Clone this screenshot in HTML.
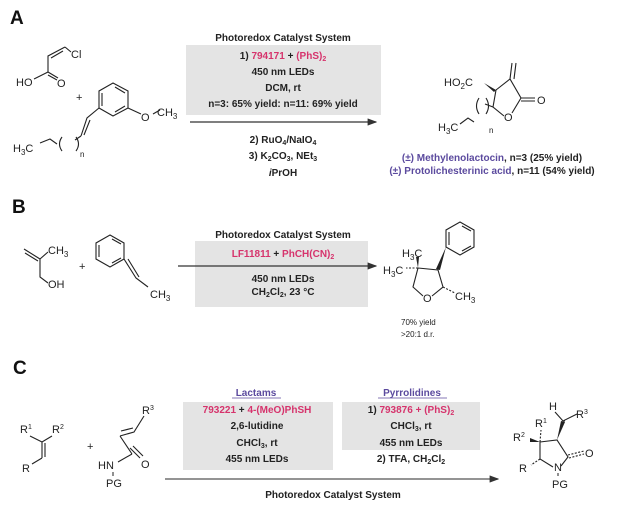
<!DOCTYPE html>
<html><head><meta charset="utf-8"><style>
html,body{margin:0;padding:0;background:#fff;}
svg{display:block;font-family:"Liberation Sans",sans-serif;}
.b{font-weight:bold}
.t{font-size:10px;fill:#222;text-anchor:middle}
.p{fill:#d6336c}
.u{fill:#5b4a9e}
.l{stroke:#222;stroke-width:1.1;fill:none}
.m{font-size:11px;fill:#222}
</style></head><body>
<svg width="620" height="505" viewBox="0 0 620 505" xmlns="http://www.w3.org/2000/svg">
<defs><marker id="ah" markerWidth="8" markerHeight="6" refX="7" refY="3" orient="auto"><path d="M0,0 L8,3 L0,6 z" fill="#333"/></marker></defs>

<!-- Panel A -->
<text x="10" y="24" font-size="19" class="b" fill="#111">A</text>
<text x="283" y="41" class="t b" font-size="10.5">Photoredox Catalyst System</text>
<rect x="186" y="45" width="195" height="70" fill="#e4e4e4"/>
<text x="283" y="59" class="t b">1) <tspan class="p">794171</tspan> + <tspan class="p">(PhS)<tspan font-size="7" dy="2">2</tspan></tspan></text>
<text x="283" y="75" class="t b">450 nm LEDs</text>
<text x="283" y="91" class="t b">DCM, rt</text>
<text x="283" y="107" class="t b" font-size="6.5">n=3: 65% yield: n=11: 69% yield</text>
<line x1="190" y1="122" x2="376" y2="122" stroke="#333" stroke-width="1.2" marker-end="url(#ah)"/>
<text x="283" y="143" class="t b">2) RuO<tspan font-size="7" dy="2">4</tspan><tspan dy="-2">/NaIO</tspan><tspan font-size="7" dy="2">4</tspan></text>
<text x="283" y="159" class="t b">3) K<tspan font-size="7" dy="2">2</tspan><tspan dy="-2">CO</tspan><tspan font-size="7" dy="2">3</tspan><tspan dy="-2">, NEt</tspan><tspan font-size="7" dy="2">3</tspan></text>
<text x="283" y="176" class="t b"><tspan font-style="italic">i</tspan>PrOH</text>

<!-- chloroacrylic acid -->
<path class="l" d="M48,72 L48,56 L65,47 M51,58 L63,51 M65,47 L71,52"/>
<text x="71" y="58" class="m">Cl</text>
<path class="l" d="M48,72 L34,79 M48,72 L58,78 M48,75 L57,80"/>
<text x="16" y="86" class="m">HO</text>
<text x="57" y="87" class="m">O</text>
<text x="76" y="101" class="m">+</text>
<!-- styrene derivative -->
<path class="l" d="M113,83 L128,91 L128,108 L113,116 L99,108 L99,91 Z M102,93 L102,106 M115,112 L125,106 M115,87 L125,93"/>
<path class="l" d="M128,108 L141,114 M153,114 L160,110"/>
<text x="141" y="121" class="m">O</text><text x="157" y="116" class="m">CH<tspan font-size="8" dy="3">3</tspan></text>
<path class="l" d="M99,108 L87,118 L81,136 M90,120 L84,135"/>
<path class="l" d="M81,136 L75,140 M62,137 Q57,144 62,151 M40,143 L50,139 L57,144 M76,137 Q81,144 76,151"/>
<text x="13" y="152" class="m">H<tspan font-size="8" dy="3">3</tspan><tspan dy="-3">C</tspan></text>
<text x="80" y="157" font-size="8" fill="#222">n</text>

<!-- product A -->
<text x="444" y="86" class="m">HO<tspan font-size="8" dy="3">2</tspan><tspan dy="-3">C</tspan></text>
<path d="M484,83 L496,90 L494,92 Z" fill="#222"/>
<path class="l" d="M496,90 L510,79 L521,98 L512,113 M496,90 L493,107 L504,116 M510,79 L512,63 M514,79 L516,63 M521,98 L535,98 M521,101 L535,101"/>
<text x="537" y="104" class="m">O</text>
<text x="504" y="121" class="m">O</text>
<path class="l" d="M493,107 L485,104 M479,98 Q474,106 479,114 M460,124 L468,118 L474,122 M486,98 Q491,106 486,114"/>
<text x="438" y="131" class="m">H<tspan font-size="8" dy="3">3</tspan><tspan dy="-3">C</tspan></text>
<text x="489" y="133" font-size="8" fill="#222">n</text>
<text x="492" y="161" class="t b" font-size="10"><tspan class="u">(±) Methylenolactocin</tspan>, n=3 (25% yield)</text>
<text x="492" y="174" class="t b" font-size="10"><tspan class="u">(±) Protolichesterinic acid</tspan>, n=11 (54% yield)</text>

<!-- Panel B -->
<text x="12" y="213" font-size="19" class="b" fill="#111">B</text>
<text x="283" y="238" class="t b" font-size="10.5">Photoredox Catalyst System</text>
<rect x="195" y="241" width="173" height="66" fill="#e4e4e4"/>
<text x="283" y="257" class="t b"><tspan class="p">LF11811</tspan> + <tspan class="p">PhCH(CN)<tspan font-size="7" dy="2">2</tspan></tspan></text>
<line x1="178" y1="266" x2="376" y2="266" stroke="#333" stroke-width="1.2" marker-end="url(#ah)"/>
<text x="283" y="282" class="t b">450 nm LEDs</text>
<text x="283" y="295" class="t b">CH<tspan font-size="7" dy="2">2</tspan><tspan dy="-2">Cl</tspan><tspan font-size="7" dy="2">2</tspan><tspan dy="-2">, 23 °C</tspan></text>
<!-- methallyl alcohol -->
<path class="l" d="M24,249 L40,259 M25,253 L38,261 M40,259 L48,252 M40,259 L40,277 L48,283"/>
<text x="48" y="254" class="m">CH<tspan font-size="8" dy="3">3</tspan></text>
<text x="48" y="288" class="m">OH</text>
<text x="79" y="270" class="m">+</text>
<!-- styrene -->
<path class="l" d="M110,235 L124,243 L124,259 L110,267 L96,259 L96,243 Z M99,245 L99,257 M112,263 L121,258 M112,239 L121,244"/>
<path class="l" d="M124,259 L136,278 L148,287 M128,259 L139,277"/>
<text x="150" y="298" class="m">CH<tspan font-size="8" dy="3">3</tspan></text>
<!-- product B -->
<path class="l" d="M460,222 L474,230 L474,247 L460,255 L446,247 L446,230 Z M449,232 L449,245 M462,251 L471,246 M462,226 L471,231"/>
<path d="M446,247 L436,269 L440,270 Z" fill="#222"/>
<path class="l" d="M418,268 L438,270 L443,287 L432,296 M418,268 L413,287 L423,296"/>
<path d="M418,268 L416,257 L419,257 Z" fill="#222"/>
<path class="l" d="M418,268 L406,268" stroke-dasharray="2,1.5"/>
<path class="l" d="M443,287 L455,293" stroke-dasharray="2,1.5"/>
<text x="402" y="257" class="m">H<tspan font-size="8" dy="3">3</tspan><tspan dy="-3">C</tspan></text>
<text x="383" y="274" class="m">H<tspan font-size="8" dy="3">3</tspan><tspan dy="-3">C</tspan></text>
<text x="423" y="302" class="m">O</text>
<text x="455" y="300" class="m">CH<tspan font-size="8" dy="3">3</tspan></text>
<text x="401" y="325" font-size="8" fill="#222">70% yield</text>
<text x="401" y="337" font-size="8" fill="#222">&gt;20:1 d.r.</text>

<!-- Panel C -->
<text x="13" y="374" font-size="19" class="b" fill="#111">C</text>
<text x="256" y="396" class="t b u">Lactams</text>
<line x1="232" y1="398" x2="281" y2="398" stroke="#5b4a9e" stroke-width="0.8"/>
<text x="412" y="396" class="t b u">Pyrrolidines</text>
<line x1="378" y1="398" x2="447" y2="398" stroke="#5b4a9e" stroke-width="0.8"/>
<rect x="183" y="402" width="150" height="68" fill="#e4e4e4"/>
<rect x="342" y="402" width="138" height="48" fill="#e4e4e4"/>
<text x="257" y="413" class="t b"><tspan class="p">793221</tspan> + <tspan class="p">4-(MeO)PhSH</tspan></text>
<text x="257" y="429" class="t b">2,6-lutidine</text>
<text x="257" y="446" class="t b">CHCl<tspan font-size="7" dy="2">3</tspan><tspan dy="-2">, rt</tspan></text>
<text x="257" y="462" class="t b">455 nm LEDs</text>
<text x="411" y="413" class="t b">1) <tspan class="p">793876 + (PhS)<tspan font-size="7" dy="2">2</tspan></tspan></text>
<text x="411" y="429" class="t b">CHCl<tspan font-size="7" dy="2">3</tspan><tspan dy="-2">, rt</tspan></text>
<text x="411" y="446" class="t b">455 nm LEDs</text>
<text x="411" y="462" class="t b">2) TFA, CH<tspan font-size="7" dy="2">2</tspan><tspan dy="-2">Cl</tspan><tspan font-size="7" dy="2">2</tspan></text>
<line x1="165" y1="479" x2="498" y2="479" stroke="#555" stroke-width="1.2" marker-end="url(#ah)"/>
<text x="333" y="498" class="t b" fill="#333">Photoredox Catalyst System</text>
<!-- alkene -->
<text x="20" y="433" class="m">R<tspan font-size="7" dy="-4">1</tspan></text>
<text x="52" y="433" class="m">R<tspan font-size="7" dy="-4">2</tspan></text>
<path class="l" d="M30,436 L42,442 L52,436 M42,442 L42,458 M45,443 L45,457 M42,458 L32,464"/>
<text x="22" y="472" class="m">R</text>
<text x="87" y="450" class="m">+</text>
<!-- acrylamide -->
<text x="142" y="414" class="m">R<tspan font-size="7" dy="-4">3</tspan></text>
<path class="l" d="M144,416 L134,432 L120,436 M133,428 L121,431 M120,436 L132,454 M130,448 L140,458 M133,446 L143,456"/>
<path class="l" d="M132,454 L118,462"/>
<text x="98" y="469" class="m">HN</text>
<text x="141" y="468" class="m">O</text>
<line x1="113" y1="472" x2="113" y2="476" stroke="#222"/>
<text x="106" y="487" class="m">PG</text>
<!-- product C -->
<text x="549" y="410" class="m">H</text>
<text x="576" y="418" class="m">R<tspan font-size="7" dy="-4">3</tspan></text>
<text x="535" y="427" class="m">R<tspan font-size="7" dy="-4">1</tspan></text>
<text x="513" y="441" class="m">R<tspan font-size="7" dy="-4">2</tspan></text>
<path class="l" d="M555,412 L563,421 L577,414 M563,421 L565,421"/>
<path d="M557,440 L561,421 L565,422 Z" fill="#222"/>
<path class="l" d="M540,442 L557,440 L568,457 L561,466 M540,442 L540,459 L553,467"/>
<path class="l" d="M540,442 L541,430" stroke-dasharray="2,1.5"/>
<path d="M540,442 L530,438 L530,442 Z" fill="#222"/>
<path class="l" d="M568,455 L584,451 M569,458 L584,454" stroke-dasharray="2,1.5"/>
<path class="l" d="M540,459 L531,465" stroke-dasharray="2,1.5"/>
<text x="585" y="457" class="m">O</text>
<text x="554" y="471" class="m">N</text>
<text x="519" y="472" class="m">R</text>
<line x1="558" y1="473" x2="558" y2="476" stroke="#222"/>
<text x="552" y="488" class="m">PG</text>
</svg>
</body></html>
